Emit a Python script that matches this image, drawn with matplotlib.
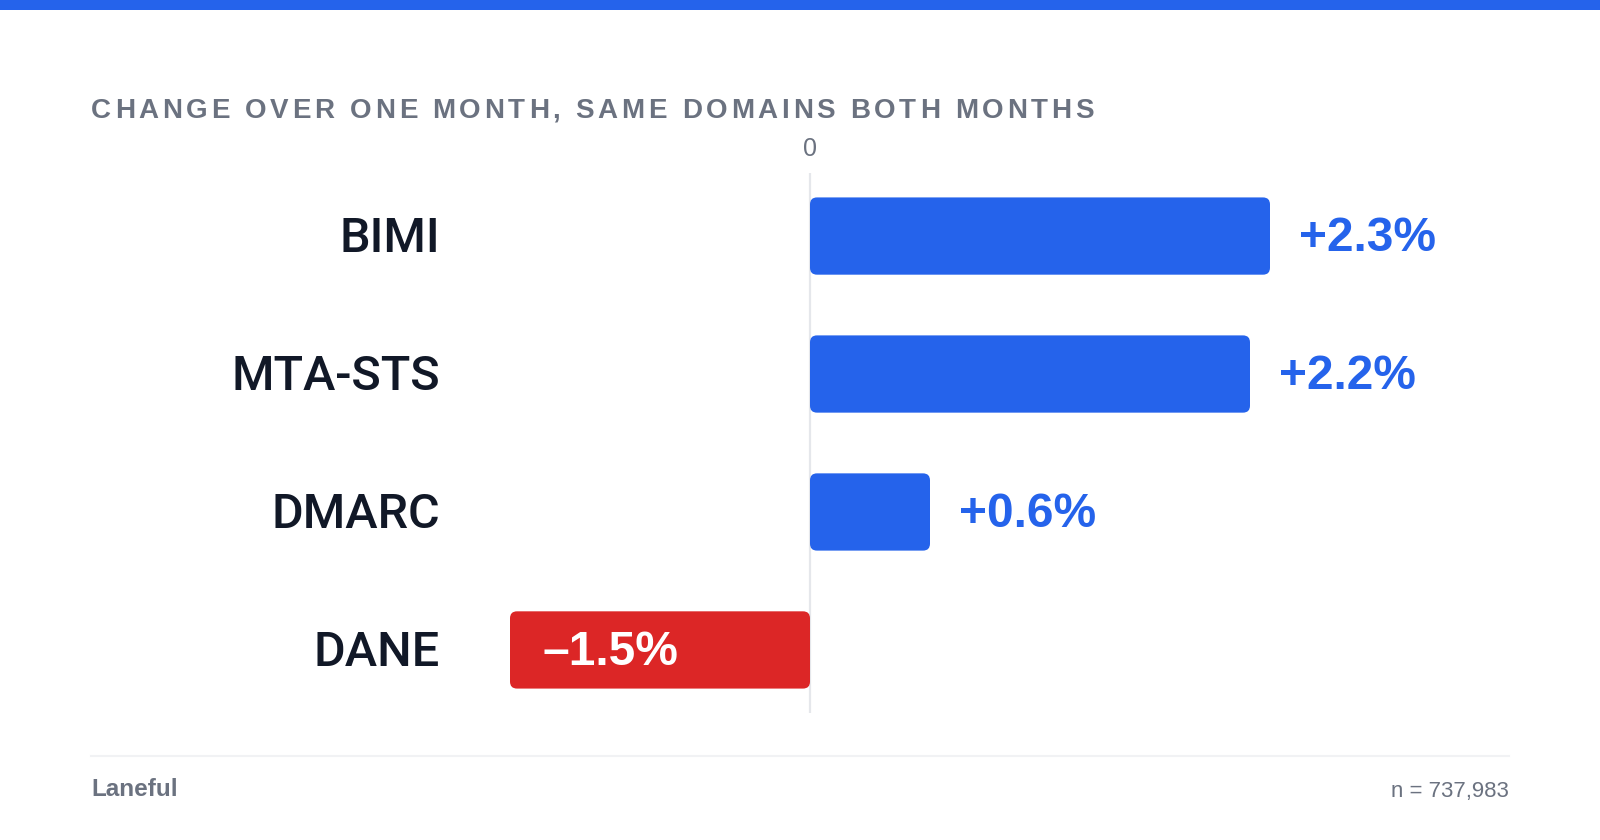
import matplotlib
matplotlib.use("Agg")
import matplotlib.pyplot as plt
from matplotlib.patches import FancyBboxPatch, Rectangle
from matplotlib.transforms import blended_transform_factory
from matplotlib import font_manager
from matplotlib.ft2font import FT2Font

# ---- Data ---- #
categories = ["BIMI", "MTA-STS", "DMARC", "DANE"]
changes = [2.3, 2.2, 0.6, -1.5]
value_labels = ["+2.3%", "+2.2%", "+0.6%", "\u20131.5%"]
title = "CHANGE OVER ONE MONTH, SAME DOMAINS BOTH MONTHS"
source = "Laneful"
sample_note = "n = 737,983"

# ---- Style ---- #
BLUE = "#2563EB"
RED = "#DC2626"
INK = "#111827"
GREY = "#6B7280"
W, H = 1600, 840
BASE = "Liberation Sans"
LABEL_FONT = ["Roboto", "Liberation Sans"]


def fx(px):
    return px / W


def fy(py):
    return 1 - py / H


fig = plt.figure(figsize=(16, 8.4), dpi=100)
fig.patch.set_facecolor("white")

# top accent band
fig.patches.append(Rectangle((0, fy(10)), 1, 10 / H, transform=fig.transFigure,
                             facecolor=BLUE, edgecolor="none"))

# ---- Title with letter spacing ---- #
title_size = 20
tracking = 3.7
path = font_manager.findfont(font_manager.FontProperties(family=BASE, weight="bold"))
ft = FT2Font(path)
ft.set_size(title_size, 100)
x = 91
for ch in title:
    fig.text(fx(x), fy(118), ch, fontsize=title_size, fontweight="bold",
             family=BASE, color=GREY, ha="left", va="baseline")
    adv = ft.load_char(ord(ch)).linearHoriAdvance / 65536
    x += adv + tracking

# ---- Bars ---- #
ax = fig.add_axes([fx(460), fy(713), fx(1100), 540 / H])
ax.set_xlim(-1.75, 3.75)
ax.set_ylim(3.457, -0.457)
ax.axis("off")

ax.axvline(0, color="#E5E7EB", lw=1.6, zorder=1)

colors = [BLUE if v >= 0 else RED for v in changes]
bars = ax.barh(range(len(categories)), changes, height=0.56, color=colors)

# rounded corners: y units per px over x units per px
aspect = (3.914 / 540) / (5.5 / 1100)
for bar in bars:
    bx, by = bar.get_x(), bar.get_y()
    bw, bh = bar.get_width(), bar.get_height()
    if bw < 0:
        bx, bw = bx + bw, -bw
    bar.remove()
    ax.add_patch(FancyBboxPatch((bx, by), bw, bh,
                                boxstyle="round,pad=0,rounding_size=0.035",
                                mutation_aspect=aspect,
                                facecolor=bar.get_facecolor(), edgecolor="none",
                                zorder=2))

lift = 0.015
for i, (cat, v, lab) in enumerate(zip(categories, changes, value_labels)):
    ax.text(-1.85, i - lift, cat, ha="right", va="center_baseline", fontsize=35,
            fontweight="medium", family=LABEL_FONT, color=INK, clip_on=False)
    if v >= 0:
        ax.text(v + 0.145, i - lift, lab, ha="left", va="center_baseline",
                fontsize=34.5, fontweight="bold", family=BASE, color=BLUE,
                clip_on=False)
    else:
        ax.text(v + 0.165, i - lift, lab, ha="left", va="center_baseline",
                fontsize=34.5, fontweight="bold", family=BASE, color="white",
                zorder=3)

# zero tick label
zero_tr = blended_transform_factory(ax.transData, fig.transFigure)
ax.text(0, fy(156), "0", transform=zero_tr, ha="center", va="baseline",
        fontsize=18, family=BASE, color=GREY, clip_on=False)

# ---- Footer ---- #
fig.add_artist(plt.Line2D([fx(91), fx(1509)], [fy(756), fy(756)],
                          transform=fig.transFigure, color="#F1F2F4", lw=1.5))
fig.text(fx(91), fy(796), source, fontsize=17.5, fontweight="bold", family=BASE,
         color=GREY, ha="left", va="baseline")
fig.text(fx(1509), fy(797), sample_note, fontsize=16, family=BASE,
         color=GREY, ha="right", va="baseline")

fig.savefig("out.png", dpi=100, facecolor="white")
